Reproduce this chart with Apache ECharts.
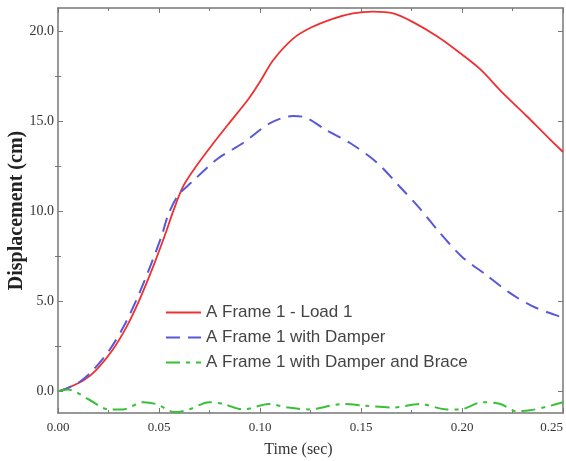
<!DOCTYPE html>
<html>
<head>
<meta charset="utf-8">
<script src="https://cdn.jsdelivr.net/npm/echarts@6/dist/echarts.min.js"></script>
<style>
html,body{margin:0;padding:0;background:#fff;}
#chart{width:566px;height:461px;}
</style>
</head>
<body>
<div id="chart"></div>
<script>
// ---- data ----
const seriesNames = ['A Frame 1 - Load 1', 'A Frame 1 with Damper', 'A Frame 1 with Damper and Brace'];

const timeLoad = [0, 0.005, 0.0125, 0.019, 0.027, 0.034, 0.040, 0.047, 0.053, 0.057, 0.062, 0.069, 0.077, 0.084, 0.094, 0.100, 0.1065, 0.1164, 0.125, 0.136, 0.146, 0.156, 0.166, 0.176, 0.188, 0.199, 0.209, 0.220, 0.232, 0.240, 0.250];
const dispLoad = [0, 0.2, 0.6, 1.2, 2.3, 3.6, 5.0, 6.9, 8.7, 10.0, 11.4, 12.6, 13.8, 14.8, 16.2, 17.2, 18.4, 19.6, 20.2, 20.7, 21.0, 21.1, 21.0, 20.5, 19.7, 18.8, 17.9, 16.6, 15.3, 14.4, 13.3];

const timeDamper = [0, 0.005, 0.011, 0.0175, 0.0255, 0.0325, 0.0385, 0.0455, 0.0515, 0.0545, 0.0595, 0.066, 0.0787, 0.0916, 0.105, 0.1164, 0.123, 0.133, 0.1446, 0.158, 0.169, 0.1792, 0.1891, 0.1998, 0.2122, 0.2233, 0.2345, 0.246, 0.250];
const dispDamper = [0, 0.2, 0.55, 1.2, 2.3, 3.6, 5.0, 6.9, 8.7, 9.8, 10.9, 11.6, 12.9, 13.8, 14.9, 15.3, 15.2, 14.5, 13.8, 12.7, 11.4, 10.15, 8.8, 7.5, 6.45, 5.5, 4.75, 4.25, 4.1];

const timeBrace = [0, 0.005, 0.0153, 0.025, 0.032, 0.042, 0.0485, 0.058, 0.065, 0.0748, 0.0817, 0.0916, 0.1045, 0.114, 0.124, 0.141, 0.152, 0.166, 0.179, 0.1926, 0.199, 0.210, 0.219, 0.227, 0.2337, 0.242, 0.250];
const dispBrace = [0, 0.1, -0.45, -1.0, -1.0, -0.6, -0.7, -1.15, -1.0, -0.6, -0.7, -1.0, -0.7, -0.9, -1.0, -0.7, -0.8, -0.9, -0.7, -1.0, -1.0, -0.6, -0.7, -1.1, -1.05, -0.85, -0.6];

const xTicks = [0, 0.05, 0.10, 0.15, 0.20, 0.25];
const yTicks = [0, 5, 10, 15, 20];
const yMinorTicks = [2.5, 7.5, 12.5, 17.5];

// ---- chart ----
const zip = (xs, ys) => xs.map((x, i) => [x, ys[i]]);
const frameColor = '#777';
const serif = '"Liberation Serif", "DejaVu Serif", serif';

const chart = echarts.init(document.getElementById('chart'), null, {renderer: 'canvas'});

const xBase = {
  type: 'value', min: 0, max: 0.25, interval: 0.05,
  axisLine: {show: true, onZero: false, lineStyle: {color: frameColor, width: 1.5}},
  axisTick: {show: true, inside: true, length: 5, lineStyle: {color: frameColor}},
  minorTick: {show: true, splitNumber: 2, length: 3, lineStyle: {color: frameColor}},
  splitLine: {show: false}
};
const yRange = {type: 'value', min: -1.2, max: 21.3, splitLine: {show: false}};

chart.setOption({
  animation: false,
  backgroundColor: '#fff',
  grid: {left: 58, right: 3, top: 8, bottom: 48, containLabel: false, outerBoundsMode: 'none'},
  legend: {
    orient: 'vertical', left: 160, top: 299,
    itemWidth: 35, itemHeight: 12, itemGap: 8,
    data: seriesNames,
    itemStyle: {opacity: 0},
    textStyle: {fontFamily: '"Liberation Sans", Arial, sans-serif', fontSize: 17, color: '#444', lineHeight: 17}
  },
  xAxis: [
    Object.assign({}, xBase, {
      position: 'bottom',
      name: 'Time (sec)', nameLocation: 'middle', nameGap: 29, nameMoveOverlap: false,
      nameTextStyle: {fontFamily: serif, fontSize: 16, color: '#333', padding: [0, 24, 0, 0]},
      axisLabel: {
        show: true, margin: 8, fontFamily: serif, fontSize: 13, color: '#333',
        customValues: xTicks, formatter: v => v.toFixed(2), alignMaxLabel: 'right'
      }
    }),
    Object.assign({}, xBase, {position: 'top', axisLabel: {show: false}})
  ],
  yAxis: [
    Object.assign({}, yRange, {
      position: 'left',
      name: 'Displacement (cm)', nameLocation: 'middle', nameGap: 31, nameMoveOverlap: false,
      nameTextStyle: {fontFamily: serif, fontSize: 20, fontWeight: 'bold', color: '#222'},
      axisLine: {show: true, onZero: false, lineStyle: {color: frameColor, width: 1.5}},
      axisTick: {show: true, inside: true, length: 5, customValues: yTicks, lineStyle: {color: frameColor}},
      axisLabel: {
        show: true, margin: 4, fontFamily: serif, fontSize: 14, color: '#333',
        customValues: yTicks, formatter: v => v.toFixed(1)
      }
    }),
    Object.assign({}, yRange, {
      position: 'left',
      axisLine: {show: false},
      axisTick: {show: true, inside: true, length: 3, customValues: yMinorTicks, lineStyle: {color: frameColor}},
      axisLabel: {show: false}
    }),
    Object.assign({}, yRange, {
      position: 'right',
      axisLine: {show: true, onZero: false, lineStyle: {color: frameColor, width: 1.5}},
      axisTick: {show: true, inside: true, length: 5, customValues: yTicks, lineStyle: {color: frameColor}},
      axisLabel: {show: false}
    }),
    Object.assign({}, yRange, {
      position: 'right',
      axisLine: {show: false},
      axisTick: {show: true, inside: true, length: 3, customValues: yMinorTicks, lineStyle: {color: frameColor}},
      axisLabel: {show: false}
    })
  ],
  series: [
    {
      name: seriesNames[0], type: 'line', data: zip(timeLoad, dispLoad),
      smooth: 0.3, symbol: 'none', clip: true,
      lineStyle: {color: '#f03030', width: 1.8}, itemStyle: {color: '#f03030'}
    },
    {
      name: seriesNames[1], type: 'line', data: zip(timeDamper, dispDamper),
      smooth: 0.3, symbol: 'none', clip: true,
      lineStyle: {color: '#5858d8', width: 2, type: [14, 8]}, itemStyle: {color: '#5858d8'}
    },
    {
      name: seriesNames[2], type: 'line', data: zip(timeBrace, dispBrace),
      smooth: 0.3, symbol: 'none', clip: true,
      lineStyle: {color: '#38c038', width: 2, type: [14, 6, 4, 6]}, itemStyle: {color: '#38c038'}
    }
  ]
});
</script>
</body>
</html>
